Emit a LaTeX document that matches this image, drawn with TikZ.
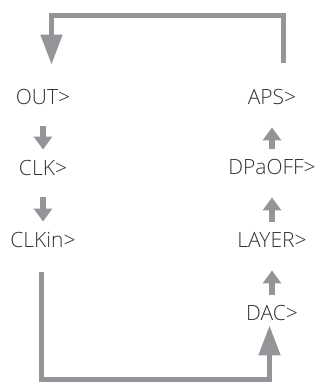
\documentclass[tikz,border=0pt]{standalone}
\usepackage{fontspec}
\setmainfont{Open Sans Light}
\usetikzlibrary{positioning,arrows.meta}
\definecolor{loopgray}{RGB}{147,149,152}
\definecolor{labelgray}{RGB}{50,50,50}

\begin{document}
\begin{tikzpicture}[x=1pt, y=-1pt, node distance=72pt, on grid,
    menu/.style={font=\fontsize{21}{23}\selectfont, text=labelgray, inner sep=0pt, text height=14.5pt, text depth=0pt},
    downarr/.style={draw=loopgray, line width=6pt, -{Triangle[width=18pt,length=13pt]}, shorten <=22pt, shorten >=11pt},
    uparr/.style={draw=loopgray, line width=6pt, -{Triangle[width=18pt,length=13pt]}, shorten <=11pt, shorten >=23pt},
    looparr/.style={draw=loopgray, line width=5pt, -{Triangle[width=21pt,length=30pt]}}]
    \useasboundingbox (0,0) rectangle (321,383);

    % left column
    \node [menu] (out) at (43,97) {OUT>};
    \node [menu, below=71pt of out] (clk) {CLK>};
    \node [menu, below=of clk] (clkin) {CLKin>};

    % right column
    \node [menu] (aps) at (272,97) {APS>};
    \node [menu, below=70pt of aps] (dpaoff) {DPaOFF>};
    \node [menu, below=73pt of dpaoff] (layer) {LAYER>};
    \node [menu, below=73pt of layer] (dac) {DAC>};

    \coordinate (t1) at (283,15.5);
    \coordinate (t2) at (51.5,15.5);
    \coordinate (b1) at (41.5,379.5);
    \coordinate (b2) at (269.5,379.5);

    \draw [downarr] (out) -- (clk);
    \draw [downarr] (clk) -- (clkin);
    \draw [uparr] (dac) -- (layer);
    \draw [uparr] (layer) -- (dpaoff);
    \draw [uparr] (dpaoff) -- (aps);

    % loops
    \draw [looparr, shorten <=27pt, shorten >=25pt] (aps.north -| t1) -- (t1) -- (t2) -- (out.north -| t2);
    \draw [looparr, shorten <=25pt, shorten >=5pt] (clkin.south -| b1) -- (b1) -- (b2) -- (dac.south -| b2);
\end{tikzpicture}
\end{document}
